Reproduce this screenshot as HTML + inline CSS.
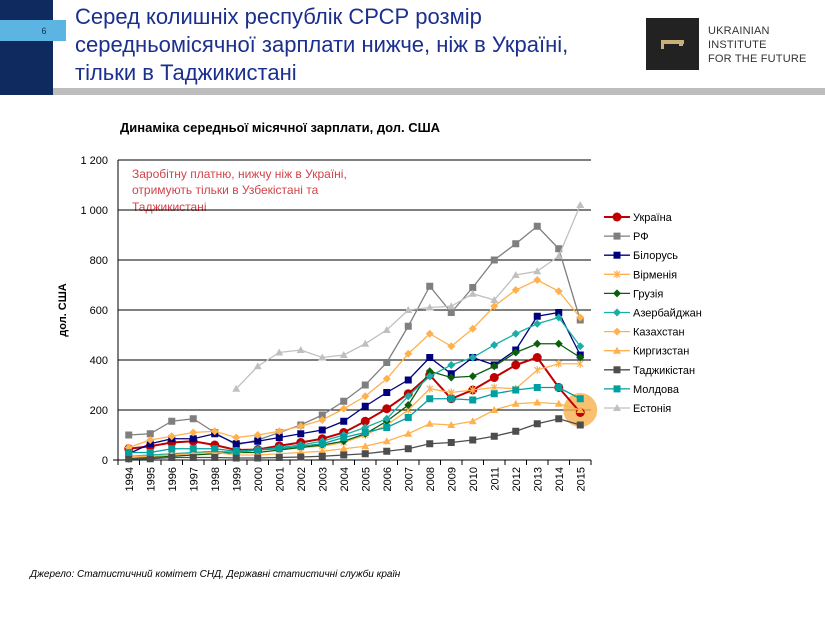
<!DOCTYPE html>
<html><head><meta charset="utf-8"><style>
html,body{margin:0;padding:0;background:#fff;}
body{width:825px;height:618px;position:relative;overflow:hidden;font-family:"Liberation Sans",sans-serif;}
</style></head><body>
<svg id="s" width="825" height="618" xmlns="http://www.w3.org/2000/svg" style="position:absolute;left:0;top:0;font-family:'Liberation Sans',sans-serif">
<rect x="0" y="0" width="53" height="95" fill="#0e2a5e"/>
<rect x="0" y="20" width="66" height="21" fill="#5bb4e2"/>
<text x="44" y="34" font-size="9" fill="#1b2b55" text-anchor="middle">6</text>
<rect x="53" y="88" width="772" height="7" fill="#bdbdbd"/>
<text font-size="22" fill="#1b2f8f"><tspan x="75" y="24">Серед колишніх республік СРСР розмір</tspan><tspan x="75" y="52">середньомісячної зарплати нижче, ніж в Україні,</tspan><tspan x="75" y="80">тільки в Таджикистані</tspan></text>
<rect x="646" y="18" width="53" height="52" fill="#222"/>
<rect x="661" y="40" width="23" height="4" fill="#c9b07a"/><rect x="661" y="40" width="3" height="9" fill="#c9b07a"/><rect x="679" y="40" width="4" height="6" fill="#c9b07a"/>
<text font-size="11" fill="#333" letter-spacing="0.2"><tspan x="708" y="34">UKRAINIAN</tspan><tspan x="708" y="48">INSTITUTE</tspan><tspan x="708" y="62">FOR THE FUTURE</tspan></text>
<text x="120" y="132" font-size="13" font-weight="bold" fill="#000">Динаміка середньої місячної зарплати, дол. США</text>
<text font-size="12" fill="#d0444a"><tspan x="132" y="178">Заробітну платню, нижчу ніж в Україні,</tspan><tspan x="132" y="194">отримують тільки в Узбекістані та</tspan><tspan x="132" y="211">Таджикистані</tspan></text>
<text transform="translate(66,310) rotate(-90)" font-size="11" font-weight="bold" text-anchor="middle">дол. США</text>
<text x="30" y="577" font-size="10" font-style="italic" fill="#000">Джерело: Статистичний комітет СНД, Державні статистичні служби країн</text>
<g id="g"></g>
</svg>
<script>
var g=document.getElementById('g'),h='';
var X0=118,W=473,Y0=460,k=0.25;
function cx(i){return X0+10.75+i*21.5;}function cy(v){return Y0-v*k;}
for(var v=0;v<=1200;v+=200){h+='<line x1="'+(v?118:113)+'" x2="591" y1="'+cy(v)+'" y2="'+cy(v)+'" stroke="#000" stroke-width="1"/>';
h+='<text x="108" y="'+(cy(v)+4)+'" font-size="11" text-anchor="end">'+(v>=1000?'1 '+String(v-1000).padStart(3,'0'):v)+'</text>';}
h+='<line x1="118" x2="118" y1="160" y2="465" stroke="#000"/>';
for(var i=0;i<=22;i++)h+='<line x1="'+(X0+i*21.5)+'" x2="'+(X0+i*21.5)+'" y1="460" y2="465" stroke="#000"/>';
for(var i=0;i<22;i++)h+='<text transform="translate('+(cx(i)+4)+',467) rotate(-90)" font-size="11" text-anchor="end">'+(1994+i)+'</text>';
h+='<circle cx="'+cx(21)+'" cy="410" r="17" fill="#f5b24e" opacity="0.8"/>';
var S=[
['Україна','#c00000','c',[45,55,70,75,60,40,42,57,70,85,110,155,205,265,340,245,280,330,380,410,290,190],2],
['РФ','#7f7f7f','s',[100,105,155,165,110,60,80,110,140,180,235,300,390,535,695,590,690,800,865,935,845,560],1.3],
['Білорусь','#00007f','s',[25,65,85,85,105,65,75,90,105,120,155,215,270,320,410,345,410,380,440,575,590,420],1.3],
['Вірменія','#ffb14e','x',[10,15,20,30,30,35,40,45,50,55,70,100,140,200,285,270,280,290,285,360,385,385],1.3],
['Грузія','#0b5e0b','d',[5,10,15,20,25,30,30,40,50,60,75,105,155,220,355,330,335,375,430,465,465,410],1.3],
['Азербайджан','#1aaea6','d',[15,20,25,30,35,30,40,50,60,75,100,130,165,255,335,380,410,460,505,545,570,455],1.3],
['Казахстан','#ffb14e','d',[50,80,95,110,115,90,100,115,135,160,205,255,325,425,505,455,525,615,680,720,675,570],1.3],
['Киргизстан','#ffb14e','t',[15,15,20,25,30,20,20,25,30,35,45,55,75,105,145,140,155,200,225,230,225,200],1.3],
['Таджикістан','#4d4d4d','s',[5,5,10,10,10,8,8,10,12,15,20,25,35,45,65,70,80,95,115,145,165,140],1.3],
['Молдова','#00a0a0','s',[30,30,45,45,45,35,40,45,55,65,90,110,130,170,245,245,240,265,280,290,290,245],1.3],
['Естонія','#c0c0c0','t',[null,null,null,null,null,285,375,430,440,410,420,465,520,600,610,615,665,640,740,755,815,1020],1.3]];
function mk(t,x,y,c){if(t=='c')return '<circle cx="'+x+'" cy="'+y+'" r="4.5" fill="'+c+'"/>';
if(t=='s')return '<rect x="'+(x-3.5)+'" y="'+(y-3.5)+'" width="7" height="7" fill="'+c+'"/>';
if(t=='d')return '<path d="M'+x+' '+(y-4)+'L'+(x+4)+' '+y+'L'+x+' '+(y+4)+'L'+(x-4)+' '+y+'Z" fill="'+c+'"/>';
if(t=='t')return '<path d="M'+x+' '+(y-4)+'L'+(x+4)+' '+(y+3)+'L'+(x-4)+' '+(y+3)+'Z" fill="'+c+'"/>';
return '<path d="M'+(x-3)+' '+(y-3)+'L'+(x+3)+' '+(y+3)+'M'+(x+3)+' '+(y-3)+'L'+(x-3)+' '+(y+3)+'M'+x+' '+(y-4)+'V'+(y+4)+'" stroke="'+c+'" stroke-width="1.2"/>';}
S.forEach(function(s,j){var p=[];s[3].forEach(function(v,i){if(v!=null)p.push(cx(i)+','+cy(v));});
h+='<polyline points="'+p.join(' ')+'" fill="none" stroke="'+s[1]+'" stroke-width="'+s[4]+'"/>';
s[3].forEach(function(v,i){if(v!=null)h+=mk(s[2],cx(i),cy(v),s[1]);});
var ly=217+j*19.1;h+='<line x1="604" x2="630" y1="'+ly+'" y2="'+ly+'" stroke="'+s[1]+'" stroke-width="'+s[4]+'"/>'+mk(s[2],617,ly,s[1]);
h+='<text x="633" y="'+(ly+4)+'" font-size="11">'+s[0]+'</text>';});
g.innerHTML=h;
</script>
</body></html>
